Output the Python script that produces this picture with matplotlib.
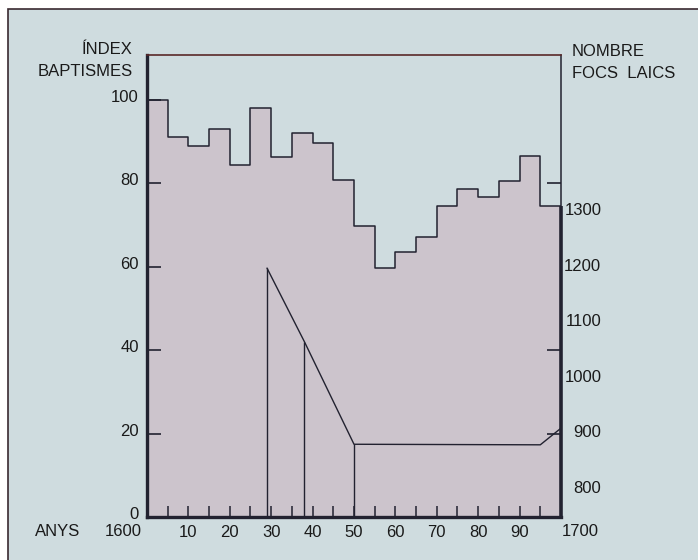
import numpy as np
import matplotlib.pyplot as plt
from matplotlib.transforms import ScaledTranslation
from matplotlib.patches import Rectangle

plt.rcParams['font.family'] = ['Liberation Sans', 'DejaVu Sans']

# index of baptisms, 5-year steps starting 1600
bap_years = np.arange(1600, 1700, 5)
bap_index = [100, 91, 89, 93, 84.3, 98, 86.3, 92.1, 89.7, 80.7,
             69.7, 59.6, 63.5, 67.1, 74.5, 78.6, 76.6, 80.6, 86.4, 74.4]

# number of lay hearths (focs laics)
focs_years = [1629, 1638, 1650, 1695, 1700]
focs_values = [1194, 1062, 877, 876, 906]
focs_bars = [1629, 1638, 1650]

left_ticks = [0, 20, 40, 60, 80, 100]
right_ticks = [800, 900, 1000, 1100, 1200, 1300]
x_major = np.arange(1610, 1700, 10)
x_minor = np.arange(1605, 1700, 10)

bg = '#cfdcdf'
fill_col = '#ccc4cc'
ink = '#222230'
txt = '#1a1a1a'
fs = 12

fig = plt.figure(figsize=(6.98, 5.6), dpi=100)
fig.patch.set_facecolor('white')

# page background with frame
bgax = fig.add_axes([0, 0, 1, 1], zorder=-1)
bgax.set_xlim(0, 698)
bgax.set_ylim(560, 0)
bgax.axis('off')
bgax.add_patch(Rectangle((8, 9), 720, 600, facecolor=bg,
                         edgecolor='#3a2a30', lw=1.2))

ax = fig.add_axes([147 / 698, 43 / 560, 414 / 698, 462 / 560])
ax.set_facecolor(bg)
l0, l1 = 0, 110.7
r0, r1 = 746, 1578
ax.set_xlim(1600, 1700)
ax.set_ylim(l0, l1)

xs = np.append(bap_years, 1700)
ys = np.append(bap_index, bap_index[-1])
ax.fill_between(xs, 0, ys, step='post', color=fill_col, lw=0, zorder=1)
ax.step(xs, ys, where='post', color=ink, lw=1.1, zorder=3)
ax.plot([1700, 1700], [0, bap_index[-1]], color=ink, lw=2.6, zorder=4,
        clip_on=False, solid_capstyle='butt')

for side in ['left', 'bottom']:
    ax.spines[side].set_linewidth(2.4)
    ax.spines[side].set_color(ink)
ax.spines['top'].set_color('#5a2828')
ax.spines['top'].set_linewidth(1.2)
ax.spines['right'].set_color(ink)
ax.spines['right'].set_linewidth(1.1)

ax.set_yticks(left_ticks)
ax.set_yticklabels([str(t) for t in left_ticks])
ax.tick_params(axis='y', direction='in', length=10, width=1.2, color=ink,
               labelsize=fs, pad=6, labelcolor=txt)
for lab in ax.get_yticklabels():
    lab.set_transform(lab.get_transform() +
                      ScaledTranslation(0, 0.04, fig.dpi_scale_trans))

ax.set_xticks(x_major)
ax.set_xticklabels([str(t - 1600) for t in x_major])
ax.set_xticks(x_minor, minor=True)
ax.tick_params(axis='x', which='both', direction='in', length=8, width=1.1,
               color=ink, labelsize=fs, pad=6, labelcolor=txt)

ax2 = ax.twinx()
ax2.set_ylim(r0, r1)
ax2.set_yticks(right_ticks)
ax2.set_yticklabels([str(t) for t in right_ticks])
ax2.set_yticks(r0 + np.array([20, 40, 80]) * (r1 - r0) / (l1 - l0),
               minor=True)
ax2.tick_params(axis='y', which='major', length=0, labelsize=fs, pad=29,
                labelcolor=txt)
ax2.tick_params(axis='y', which='minor', direction='in', length=10,
                width=1.2, color=ink)
for lab in ax2.get_yticklabels():
    lab.set_horizontalalignment('right')
for s in ax2.spines.values():
    s.set_visible(False)

ax2.plot(focs_years, focs_values, color=ink, lw=1.0, zorder=5)
ax2.vlines(focs_bars, r0, focs_values[:3], color=ink, lw=1.0, zorder=5)

ax.text(1598.8, -1.7, '1600', ha='right', va='top', fontsize=fs,
        clip_on=False, color=txt)
ax.text(1700.2, -1.7, '1700', ha='left', va='top', fontsize=fs,
        clip_on=False, color=txt)
ax.text(1578.4, -1.7, 'ANYS', ha='center', va='top', fontsize=fs,
        clip_on=False, color=txt)

fig.text(133 / 698, 1 - 50 / 560, 'ÍNDEX', ha='right', va='center',
         fontsize=fs, color=txt)
fig.text(133 / 698, 1 - 72 / 560, 'BAPTISMES', ha='right', va='center',
         fontsize=fs, color=txt)
fig.text(572 / 698, 1 - 52 / 560, 'NOMBRE', ha='left', va='center',
         fontsize=fs, color=txt)
fig.text(572 / 698, 1 - 74 / 560, 'FOCS  LAICS', ha='left', va='center',
         fontsize=fs, color=txt)

fig.savefig('out.png', dpi=100, facecolor=fig.get_facecolor())
